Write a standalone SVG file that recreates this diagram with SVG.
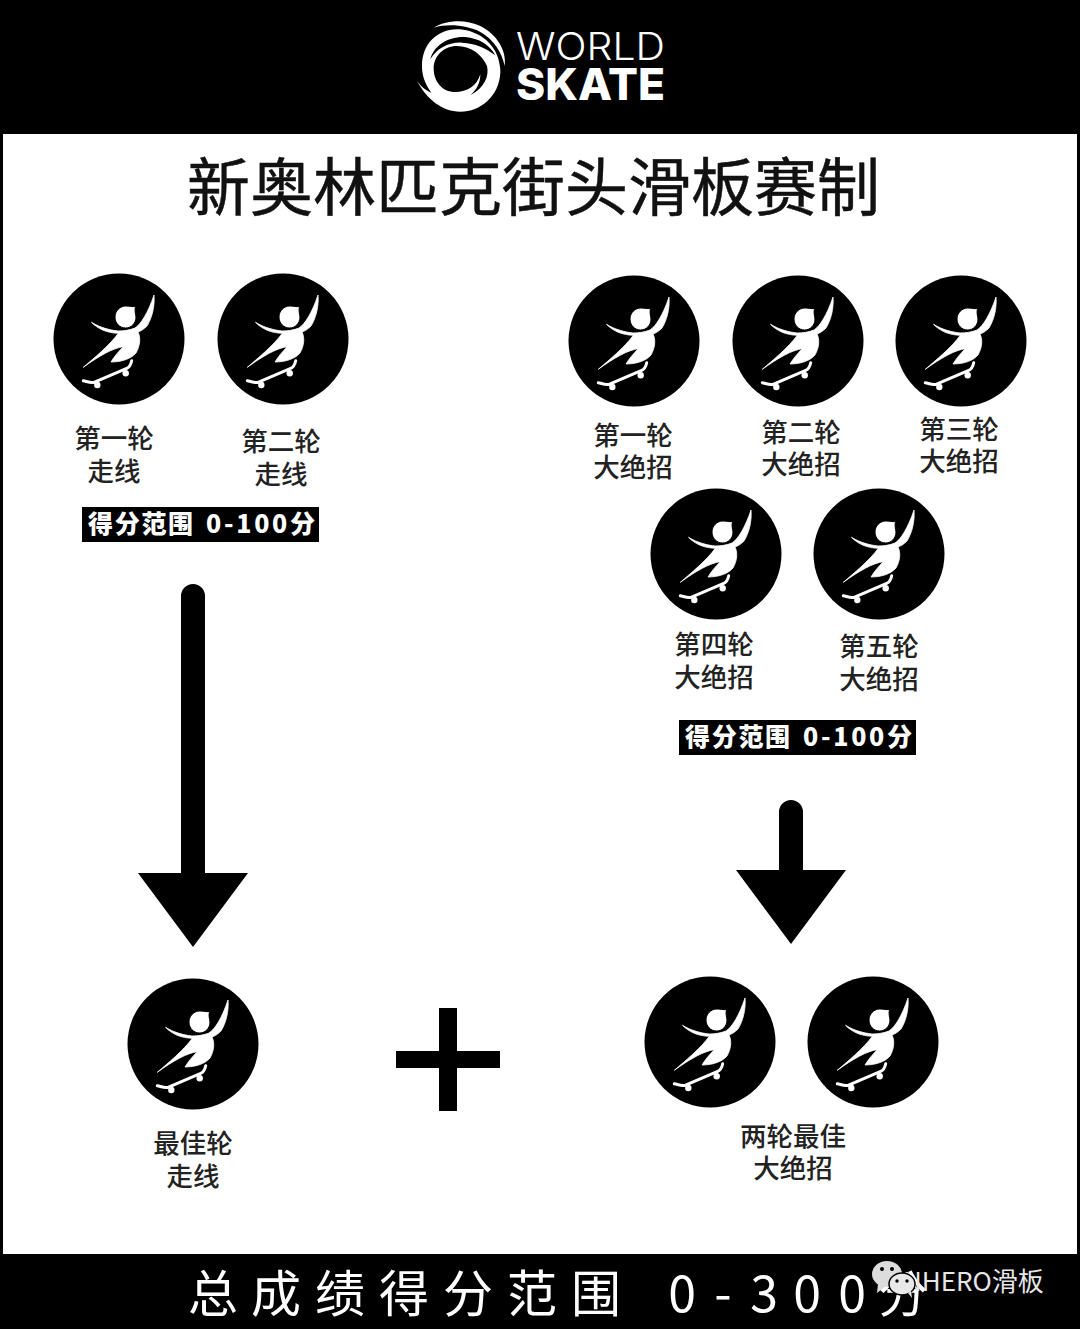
<svg xmlns="http://www.w3.org/2000/svg" width="1080" height="1329" viewBox="0 0 1080 1329">
<style>
.cjk{font-family:"Noto Sans CJK SC","Noto Sans",sans-serif}
.lbl{font-family:"Noto Sans CJK SC",sans-serif;font-size:26.5px;fill:#222;text-anchor:middle;font-weight:500}
.score{font-family:"Noto Sans CJK SC",sans-serif;font-size:25px;fill:#fff;font-weight:900}
.total{font-family:"Noto Sans CJK SC",sans-serif;font-size:50px;fill:#fff;text-anchor:middle;font-weight:400}
.arrow{fill:#000}
</style>
<defs>
<g id="skater">
<circle r="65.5" fill="#000"/>
<path fill="#fff" stroke="#fff" stroke-width=".8" stroke-linejoin="round" d="M-27.5-16.7C-18-11-9-9-1-8C5-8 11-9 16-11C22-15 29-26 35-44C36-33 33-21 28-13C25-10 22-8 19-7C22-1 21 7 17 14C12 20 2 23-8 23C-5 18-1 13 4.3 7.7C-6 9-20 17-35.7 28.3C-26 20-9 6-0.7-5.7C-12-6-21-10-27.5-16.7Z"/>
<path fill="#fff" stroke="#000" stroke-width="1" d="M16.5-32.5C15.5-29 16.5-25 17-22C17-15.5 12-11 6.7-11C0.5-11-4-16-4-22C-4-28 1-33 6.7-33C10-33 13-32 16.5-32.5Z"/>
<path fill="none" stroke="#fff" stroke-width="3" stroke-linecap="round" d="M-35.7 41.7C-32 42.5-28 44.5-25 43.3L7.7 29.3C11 28 12 25 12.7 21.7"/>
<circle cx="-21.7" cy="46" r="3.2" fill="#fff"/>
<circle cx="6.7" cy="34.3" r="3.2" fill="#fff"/>
</g>
</defs>
<rect width="1080" height="1329" fill="#000"/>
<rect x="3" y="134" width="1074" height="1120" fill="#fff"/>
<g id="logo">
<g transform="translate(412 16) scale(.3333)">
<path fill="#fff" d="M30 150C30 85 75 40 135 40C185 40 240 70 258 125C264 145 266 165 265 170C262 240 205 287 145 287C90 287 45 250 15 195C30 215 45 225 58 230C40 205 30 180 30 150Z"/>
<path fill="#fff" d="M65 35C100 12 160 8 205 30C255 55 285 105 278 150C270 110 245 70 205 48C165 28 110 22 65 35Z"/>
<path fill="#000" d="M55 130C65 88 110 60 160 63C200 66 235 88 250 118C220 95 190 82 150 80C110 78 75 97 55 130Z"/>
<path fill="#000" d="M135 90C175 90 210 115 225 150C232 180 218 215 175 238C195 220 205 200 205 175C195 210 165 228 130 228C90 228 65 195 65 158C65 120 95 90 135 90Z"/>
</g>
<text x="516" y="60" font-family="Inter,Lato,sans-serif" font-size="38" font-weight="300" fill="#fff" textLength="149" lengthAdjust="spacingAndGlyphs">WORLD</text>
<text x="516" y="100" font-family="Inter,Lato,sans-serif" font-size="44" font-weight="800" fill="#fff" textLength="149" lengthAdjust="spacingAndGlyphs">SKATE</text>
</g>
<text id="title" x="533.5" y="210" class="cjk" font-size="63" font-weight="400" fill="#111" stroke="#111" stroke-width=".5" text-anchor="middle">新奥林匹克街头滑板赛制</text>
<g id="n1"><use href="#skater" x="119" y="339"/><text class="lbl" x="114" y="448">第一轮</text><text class="lbl" x="114" y="481">走线</text></g>
<g id="n2"><use href="#skater" x="283" y="339"/><text class="lbl" x="281" y="451">第二轮</text><text class="lbl" x="281" y="484">走线</text></g>
<g id="n3"><use href="#skater" x="634" y="341"/><text class="lbl" x="633" y="445">第一轮</text><text class="lbl" x="633" y="477">大绝招</text></g>
<g id="n4"><use href="#skater" x="798" y="341"/><text class="lbl" x="801" y="442">第二轮</text><text class="lbl" x="801" y="474">大绝招</text></g>
<g id="n5"><use href="#skater" x="961" y="341"/><text class="lbl" x="959" y="439">第三轮</text><text class="lbl" x="959" y="471">大绝招</text></g>
<g id="n6"><use href="#skater" x="716" y="554"/><text class="lbl" x="714" y="654">第四轮</text><text class="lbl" x="714" y="687">大绝招</text></g>
<g id="n7"><use href="#skater" x="879" y="554"/><text class="lbl" x="879" y="656">第五轮</text><text class="lbl" x="879" y="689">大绝招</text></g>
<g id="score1"><rect x="82" y="507" width="237" height="35" fill="#000"/><text class="score" x="88" y="533" letter-spacing="1.7">得分范围</text><text class="score" x="206" y="533" letter-spacing="2.7">0-100分</text></g>
<g id="score2"><rect x="679" y="720" width="237" height="35" fill="#000"/><text class="score" x="685" y="746" letter-spacing="1.7">得分范围</text><text class="score" x="803" y="746" letter-spacing="2.7">0-100分</text></g>
<g id="connectors">
<path class="arrow" d="M181 596A12 12 0 0 1 205 596V873H248L193 947L138 873H181Z"/>
<path class="arrow" d="M779 812A12 12 0 0 1 803 812V870H846L791 944L736 870H779Z"/>
</g>
<g id="n8"><use href="#skater" x="193" y="1044"/><text class="lbl" x="193" y="1153">最佳轮</text><text class="lbl" x="193" y="1186">走线</text></g>
<g id="plus"><path fill="#000" d="M439 1008H457V1051H500V1068H457V1111H439V1068H396V1051H439Z"/></g>
<g id="n9"><use href="#skater" x="710" y="1042"/><use href="#skater" x="873" y="1042"/><text class="lbl" x="793" y="1146">两轮最佳</text><text class="lbl" x="793" y="1178">大绝招</text></g>
<g id="total">
<text class="total" x="213" y="1312">总</text><text class="total" x="276" y="1312">成</text><text class="total" x="340" y="1312">绩</text><text class="total" x="404" y="1312">得</text><text class="total" x="468" y="1312">分</text><text class="total" x="532" y="1312">范</text><text class="total" x="596" y="1312">围</text>
<text class="total" x="682" y="1312">0</text><text class="total" x="723" y="1312">-</text><text class="total" x="764" y="1312">3</text><text class="total" x="807" y="1312">0</text><text class="total" x="852" y="1312">0</text><text class="total" x="903" y="1312">分</text>
</g>
<g id="watermark">
<text x="903" y="1291" class="cjk" font-size="26" fill="#e6e6e6">NHERO滑板</text>
<ellipse cx="887" cy="1274" rx="15" ry="13" fill="#dcdcdc"/><path d="M878 1284L877 1293L886 1286Z" fill="#dcdcdc"/>
<ellipse cx="902" cy="1284" rx="13" ry="11" fill="#e8e8e8" stroke="#000" stroke-width="1.5"/><path d="M908 1293L912 1298L911 1291Z" fill="#e8e8e8"/>
<circle cx="882" cy="1269" r="2" fill="#000"/><circle cx="892" cy="1269" r="2" fill="#000"/><circle cx="897" cy="1281" r="1.7" fill="#000"/><circle cx="907" cy="1281" r="1.7" fill="#000"/>
</g>
</svg>
